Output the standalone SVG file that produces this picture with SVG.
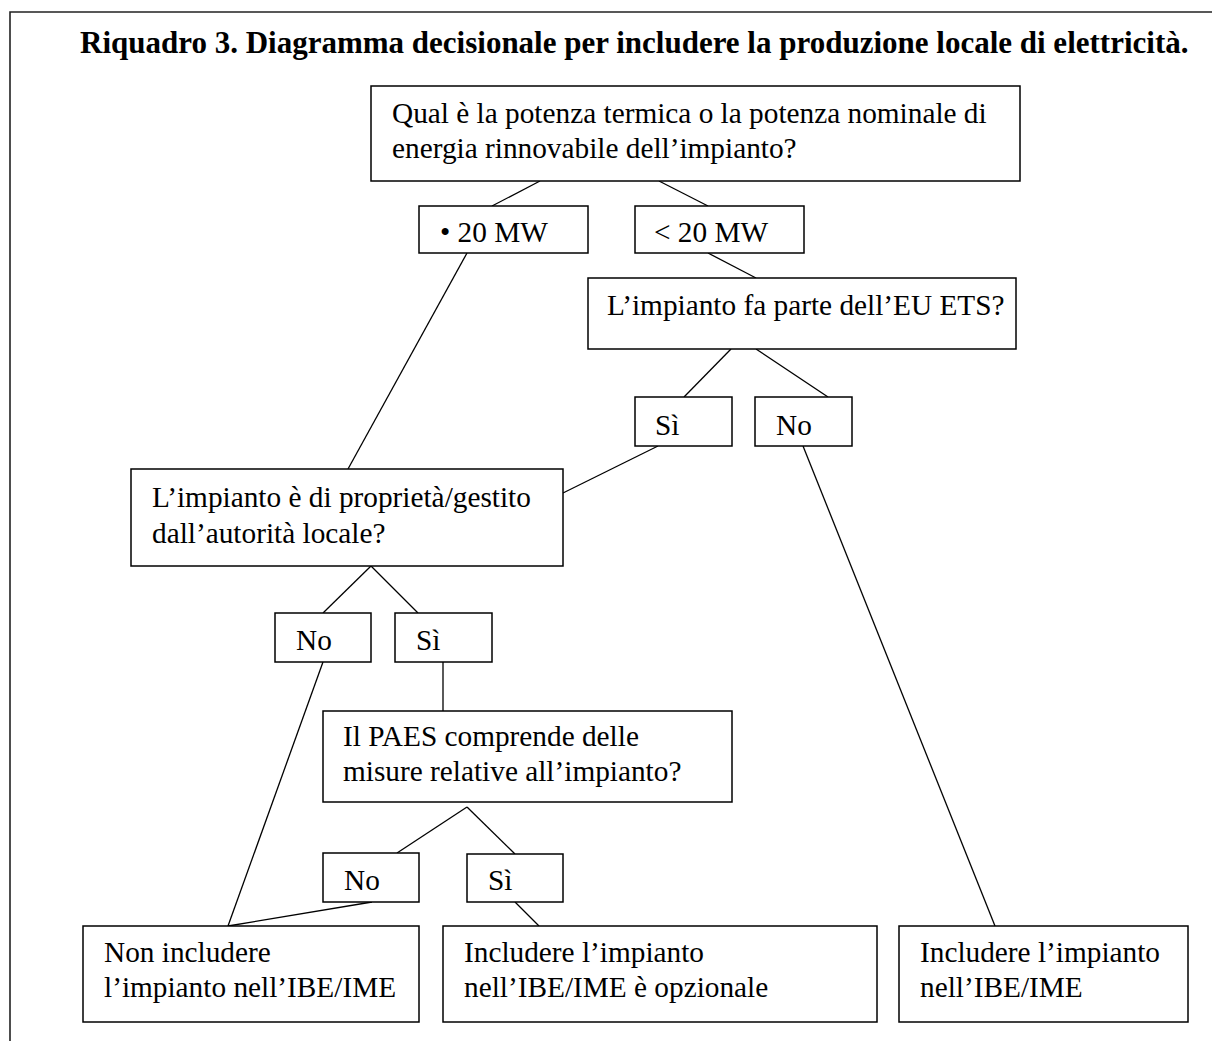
<svg xmlns="http://www.w3.org/2000/svg" width="1212" height="1041" viewBox="0 0 1212 1041">
<style>
  .box { fill: #fff; stroke: #000; stroke-width: 1.5; }
  .t { font-family: "Liberation Serif", "Times New Roman", serif; font-size: 29.3px; fill: #000; }
  .title { font-family: "Liberation Serif", "Times New Roman", serif; font-size: 31px; font-weight: bold; fill: #000; }
  .c line { stroke: #000; stroke-width: 1.3; }
  .frame { stroke: #222; stroke-width: 1.6; fill: none; }
</style>
<rect width="1212" height="1041" fill="#fff"/>
<path class="frame" d="M10,1041 V12 H1212"/>
<text class="title" x="80" y="53">Riquadro 3. Diagramma decisionale per includere la produzione locale di elettricità.</text>
<g class="c" id="connectors">
  <line x1="540" y1="181" x2="492" y2="206"/>
  <line x1="659" y1="181" x2="708" y2="206"/>
  <line x1="467" y1="253" x2="348" y2="469"/>
  <line x1="708" y1="253" x2="756" y2="278"/>
  <line x1="731" y1="349" x2="684" y2="397"/>
  <line x1="756" y1="349" x2="828" y2="397"/>
  <line x1="658" y1="446" x2="563" y2="493"/>
  <line x1="803" y1="446" x2="995" y2="926"/>
  <line x1="371" y1="566" x2="323" y2="613"/>
  <line x1="371" y1="566" x2="418" y2="613"/>
  <line x1="323" y1="662" x2="228" y2="926"/>
  <line x1="443" y1="662" x2="443" y2="711"/>
  <line x1="467" y1="807" x2="397" y2="853"/>
  <line x1="467" y1="807" x2="515" y2="854"/>
  <line x1="372" y1="902" x2="228" y2="926"/>
  <line x1="515" y1="902" x2="539" y2="926"/>
</g>
<g id="q1"><rect class="box" x="371" y="86" width="649" height="95"/>
  <text class="t" x="392" y="123">Qual è la potenza termica o la potenza nominale di</text>
  <text class="t" x="392" y="158">energia rinnovabile dell’impianto?</text></g>
<g id="ge20"><rect class="box" x="419" y="206" width="169" height="47"/>
  <text class="t" x="440" y="242">• 20 MW</text></g>
<g id="lt20"><rect class="box" x="635" y="206" width="169" height="47"/>
  <text class="t" x="654" y="242">&lt; 20 MW</text></g>
<g id="ets"><rect class="box" x="588" y="278" width="428" height="71"/>
  <text class="t" x="607" y="315">L’impianto fa parte dell’EU ETS?</text></g>
<g id="ets-si"><rect class="box" x="635" y="397" width="97" height="49"/>
  <text class="t" x="655" y="435">Sì</text></g>
<g id="ets-no"><rect class="box" x="755" y="397" width="97" height="49"/>
  <text class="t" x="776" y="435">No</text></g>
<g id="prop"><rect class="box" x="131" y="469" width="432" height="97"/>
  <text class="t" x="152" y="507">L’impianto è di proprietà/gestito</text>
  <text class="t" x="152" y="543">dall’autorità locale?</text></g>
<g id="prop-no"><rect class="box" x="275" y="613" width="96" height="49"/>
  <text class="t" x="296" y="650">No</text></g>
<g id="prop-si"><rect class="box" x="395" y="613" width="97" height="49"/>
  <text class="t" x="416" y="650">Sì</text></g>
<g id="paes"><rect class="box" x="323" y="711" width="409" height="91"/>
  <text class="t" x="343" y="746">Il PAES comprende delle</text>
  <text class="t" x="343" y="781">misure relative all’impianto?</text></g>
<g id="paes-no"><rect class="box" x="323" y="853" width="96" height="49"/>
  <text class="t" x="344" y="890">No</text></g>
<g id="paes-si"><rect class="box" x="467" y="854" width="96" height="48"/>
  <text class="t" x="488" y="890">Sì</text></g>
<g id="non"><rect class="box" x="83" y="926" width="336" height="96"/>
  <text class="t" x="104" y="962">Non includere</text>
  <text class="t" x="104" y="997">l’impianto nell’IBE/IME</text></g>
<g id="opt"><rect class="box" x="443" y="926" width="434" height="96"/>
  <text class="t" x="464" y="962">Includere l’impianto</text>
  <text class="t" x="464" y="997">nell’IBE/IME è opzionale</text></g>
<g id="inc"><rect class="box" x="899" y="926" width="289" height="96"/>
  <text class="t" x="920" y="962">Includere l’impianto</text>
  <text class="t" x="920" y="997">nell’IBE/IME</text></g>
</svg>
